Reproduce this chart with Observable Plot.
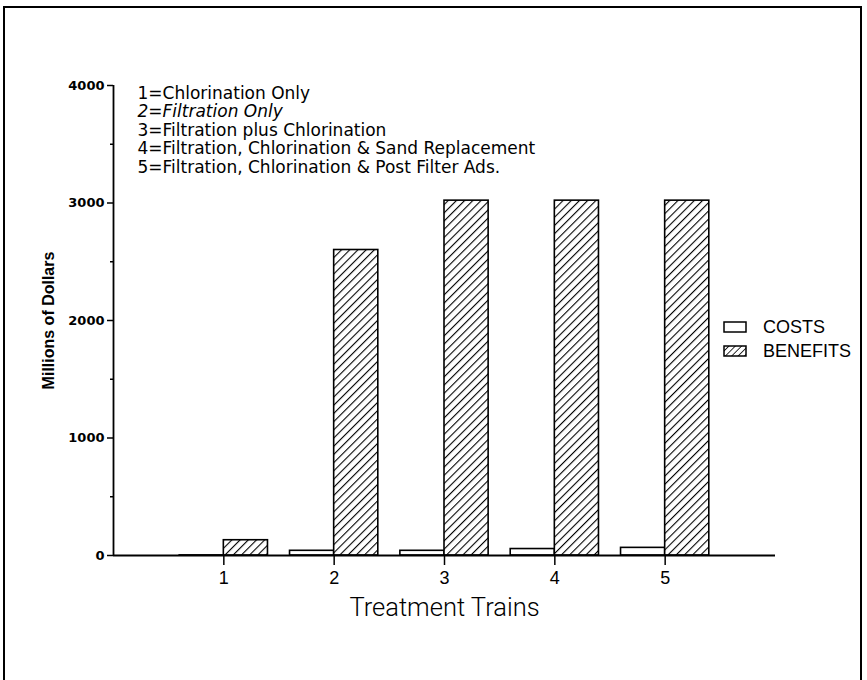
<!DOCTYPE html>
<html>
<head>
<meta charset="utf-8">
<script src="https://cdn.jsdelivr.net/npm/d3@7"></script>
<script src="https://cdn.jsdelivr.net/npm/@observablehq/plot@0.6"></script>
<style>
  html, body { margin: 0; padding: 0; background: #fff; overflow: hidden; }
  #wrap { position: relative; width: 867px; height: 680px; }
  #border { position: absolute; left: 3px; top: 6px; width: 859px; height: 700px; border: 2px solid #000; border-bottom: none; box-sizing: border-box; }
  #chart { position: absolute; left: 0; top: 0; }
  #legend { position: absolute; left: 723px; top: 315px; font-family: "Liberation Sans", Arial, sans-serif; font-size: 18px; color: #000; }
  #legend .item { display: flex; align-items: center; height: 24px; }
  #legend svg { margin-right: 16px; }
</style>
</head>
<body>
<div id="wrap">
  <div id="border"></div>
  <div id="chart"></div>
  <div id="legend"></div>
</div>
<script>
// Data
const trains = [1, 2, 3, 4, 5];
const costs = [1, 40, 40, 55, 65];
const benefits = [130, 2600, 3020, 3020, 3020];
const seriesNames = ["COSTS", "BENEFITS"];
const noteLines = [
  "1=Chlorination Only",
  "2=Filtration Only",
  "3=Filtration plus Chlorination",
  "4=Filtration, Chlorination & Sand Replacement",
  "5=Filtration, Chlorination & Post Filter Ads."
];
const yTicks = [0, 1000, 2000, 3000, 4000];
const yMinorTicks = [500, 1500, 2500, 3500];
const xLabel = "Treatment Trains";
const yLabel = "Millions of Dollars";

const barWidth = 0.4;
const rows = [];
trains.forEach((t, i) => {
  rows.push({series: "COSTS", x1: t - barWidth, x2: t, value: costs[i]});
  rows.push({series: "BENEFITS", x1: t, x2: t + barWidth, value: benefits[i]});
});

const noteMarks = noteLines.map((line, i) =>
  Plot.text([line], {
    frameAnchor: "top-left",
    text: d => d,
    dx: 24,
    dy: 1 + i * 18.5,
    lineAnchor: "top",
    textAnchor: "start",
    fontSize: 17,
    fontFamily: "'DejaVu Sans', sans-serif",
    fontStyle: i === 1 ? "italic" : "normal",
    fill: "#000"
  })
);

const plot = Plot.plot({
  width: 867,
  height: 680,
  marginLeft: 113,
  marginRight: 92,
  marginTop: 85,
  marginBottom: 125,
  style: {fontFamily: "'Liberation Sans', Arial, sans-serif", background: "transparent", color: "#000"},
  x: {domain: [0, 6]},
  y: {domain: [0, 4000]},
  marks: [
    Plot.axisY({ticks: yTicks, tickSize: 6, tickPadding: 3, fontSize: 13, fontWeight: "bold", fontFamily: "'DejaVu Sans', sans-serif", label: null, strokeWidth: 1.5, tickFormat: d => String(d)}),
    Plot.axisY({ticks: yMinorTicks, tickSize: 3, text: null, label: null, strokeWidth: 1.5}),
    Plot.text([yLabel], {frameAnchor: "left", text: d => d, rotate: -90, dx: -65, textAnchor: "middle", fontSize: 16, fontWeight: "bold", fill: "#000"}),
    Plot.axisX({ticks: trains, tickSize: 10, tickPadding: 6, fontSize: 18, label: null, strokeWidth: 1.5, tickFormat: d => String(d)}),
    Plot.text([xLabel], {frameAnchor: "bottom", text: d => d, lineAnchor: "bottom", dy: 60, fontSize: 25.5, fontWeight: 300, fontFamily: "Roboto, 'DejaVu Sans', sans-serif", fill: "#000"}),
    Plot.rectY(rows, {
      x1: "x1", x2: "x2", y: "value",
      fill: d => d.series === "COSTS" ? "#fff" : "url(#hatch)",
      stroke: "#000", strokeWidth: 1.6
    }),
    Plot.ruleY([0], {stroke: "#000", strokeWidth: 1.8}),
    Plot.ruleX([0], {stroke: "#000", strokeWidth: 1.8}),
    ...noteMarks
  ]
});

d3.select(plot).insert("defs", ":first-child").html(`
  <pattern id="hatch" patternUnits="userSpaceOnUse" width="5.8" height="5.8" patternTransform="rotate(45)">
    <rect width="5.8" height="5.8" fill="#fff"></rect>
    <line x1="0" y1="0" x2="0" y2="5.8" stroke="#000" stroke-width="2.2"></line>
  </pattern>`);

document.getElementById("chart").appendChild(plot);

// Legend
const legend = d3.select("#legend");
seriesNames.forEach(name => {
  const item = legend.append("div").attr("class", "item");
  const s = item.append("svg").attr("width", 24).attr("height", 12);
  s.append("defs").html(`
    <pattern id="hatchL${name}" patternUnits="userSpaceOnUse" width="4.5" height="4.5" patternTransform="rotate(45)">
      <rect width="4.5" height="4.5" fill="#fff"></rect>
      <line x1="0" y1="0" x2="0" y2="4.5" stroke="#000" stroke-width="1.6"></line>
    </pattern>`);
  s.append("rect").attr("x", 1).attr("y", 1).attr("width", 22).attr("height", 10)
    .attr("fill", name === "COSTS" ? "#fff" : `url(#hatchL${name})`)
    .attr("stroke", "#000").attr("stroke-width", 1.5);
  item.append("span").text(name);
});
</script>
</body>
</html>
